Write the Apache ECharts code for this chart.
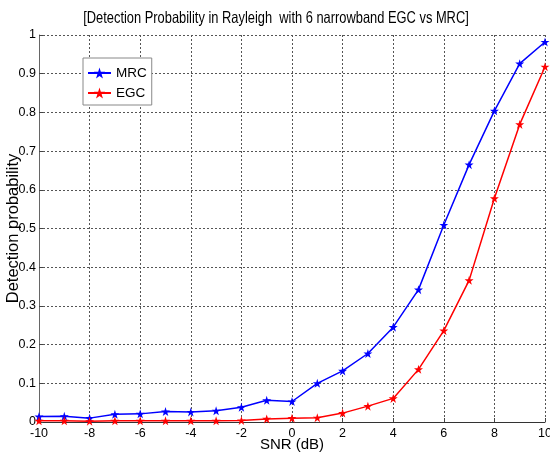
<!DOCTYPE html>
<html><head><meta charset="utf-8">
<script src="https://cdn.jsdelivr.net/npm/echarts@6/dist/echarts.min.js"></script>
<style>html,body{margin:0;padding:0;background:#fff}#c{width:550px;height:459px}</style>
</head><body><div id="c"></div>
<script>
const snr = [-10,-9,-8,-7,-6,-5,-4,-3,-2,-1,0,1,2,3,4,5,6,7,8,9,10];
const mrc = [0.014,0.015,0.010,0.020,0.021,0.027,0.026,0.029,0.038,0.056,0.053,0.100,0.132,0.177,0.245,0.342,0.509,0.665,0.804,0.926,0.982];
const egc = [0.003,0.003,0.002,0.003,0.003,0.003,0.003,0.003,0.004,0.008,0.010,0.011,0.023,0.041,0.061,0.136,0.236,0.366,0.578,0.769,0.918];
const xTicks = [-10,-8,-6,-4,-2,0,2,4,6,8,10];
const yTicks = [0,0.1,0.2,0.3,0.4,0.5,0.6,0.7,0.8,0.9,1];
const titleText = '[Detection Probability in Rayleigh  with 6 narrowband EGC vs MRC]';

const FONT = '"Liberation Sans", Arial, sans-serif';
const star = 'path://M0,-10 L2.245,-3.09 L9.51,-3.09 L3.633,1.18 L5.878,8.09 L0,3.82 L-5.878,8.09 L-3.633,1.18 L-9.51,-3.09 L-2.245,-3.09 Z';

const chart = echarts.init(document.getElementById('c'), null, {renderer:'canvas'});
chart.setOption({
  animation:false,
  backgroundColor:'#fff',
  graphic:[{type:'text', x:276, y:10, scaleX:0.78, z:10,
    style:{text:titleText, fontFamily:'Liberation Sans, Arial, sans-serif', fontSize:16.5, fill:'#000',
      textAlign:'center', textVerticalAlign:'top'}}],
  grid:{left:39, right:5, top:35, bottom:37, containLabel:false, outerBoundsMode:'none'},
  legend:{orient:'vertical', left:83, top:58, backgroundColor:'#fff', borderColor:'#888', borderWidth:1,
    padding:[8,5,5,4], itemGap:6, itemWidth:23, itemHeight:14,
    textStyle:{fontFamily:FONT, fontSize:13.5, color:'#000'},
    data:['MRC','EGC']},
  xAxis:{type:'value', min:-10, max:10, interval:2, name:'SNR (dB)', nameLocation:'middle', nameGap:15,
    nameMoveOverlap:false,
    nameTextStyle:{fontFamily:FONT, fontSize:15, color:'#000'},
    axisLine:{show:true, onZero:false, lineStyle:{color:'#333', width:1}},
    axisTick:{show:true, inside:true, length:4, lineStyle:{color:'#444'}},
    axisLabel:{fontFamily:FONT, fontSize:12.5, color:'#000', margin:5,
      customValues: xTicks},
    splitLine:{show:true, lineStyle:{color:'#555', type:[2,2], width:1}}},
  yAxis:{type:'value', min:0, max:1, interval:0.1, name:'Detection probability', nameLocation:'middle', nameGap:17,
    nameMoveOverlap:false,
    nameTextStyle:{fontFamily:FONT, fontSize:16.5, color:'#000'},
    axisLine:{show:true, onZero:false, lineStyle:{color:'#666', width:1}},
    axisTick:{show:true, inside:true, length:4, lineStyle:{color:'#444'}},
    axisLabel:{fontFamily:FONT, fontSize:12.5, color:'#000', margin:3,
      customValues: yTicks},
    splitLine:{show:true, lineStyle:{color:'#555', type:[2,2], width:1}}},
  series:[
    {name:'MRC', type:'line', data:snr.map((x,i)=>[x,mrc[i]]), symbol:star, symbolSize:9,
      itemStyle:{color:'#0000ff'}, lineStyle:{color:'#0000ff', width:1.5}},
    {name:'EGC', type:'line', data:snr.map((x,i)=>[x,egc[i]]), symbol:star, symbolSize:9,
      itemStyle:{color:'#ff0000'}, lineStyle:{color:'#ff0000', width:1.5}}
  ]
});
</script></body></html>
